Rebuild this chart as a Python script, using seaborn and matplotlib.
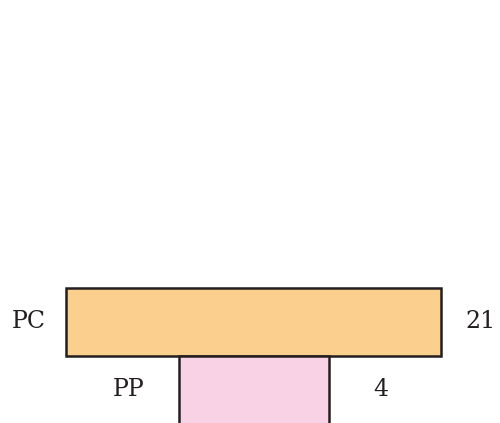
import matplotlib
matplotlib.use("Agg")
import matplotlib.pyplot as plt
import seaborn as sns

# pyramid levels, top to bottom
levels = ["PC", "PP"]
counts = [21, 4]
# drawn widths (bars are not to scale with the counts)
widths = [10, 4]
colors = ["#fbcf8e", "#f9d3e5"]

sns.set_style("white")
plt.rcParams["font.family"] = ["DejaVu Serif"]

fig = plt.figure(figsize=(5, 4.23), dpi=100)
ax = fig.add_axes([0, 0, 1, 1])

for i, (lab, n, w, c) in enumerate(zip(levels, counts, widths, colors)):
    ax.barh(i, w, left=-w / 2, height=1, color=c, edgecolor="#231f20", linewidth=1.8)
    pad = 1.0 + 0.33 * i  # narrower bars sit their labels a bit further out
    ax.text(-w / 2 - pad, i, lab, ha="center", va="center", fontsize=17, color="#231f20")
    ax.text(w / 2 + pad + 0.05, i, str(n), ha="center", va="center", fontsize=17, color="#231f20")

ax.set_xlim(-6.76, 6.57)
ax.set_ylim(1.49, -4.75)
ax.axis("off")

fig.savefig("out.png", dpi=100)
